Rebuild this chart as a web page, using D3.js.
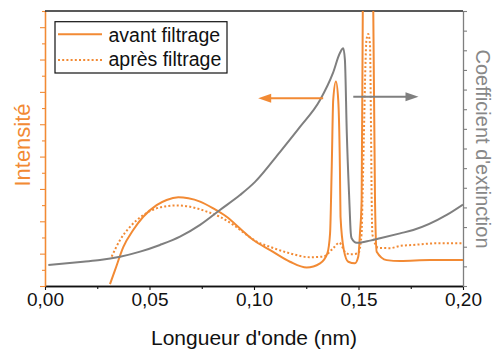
<!DOCTYPE html>
<html>
<head>
<meta charset="utf-8">
<script src="https://cdn.jsdelivr.net/npm/d3@7"></script>
<style>
  body { margin: 0; background: #fff; }
  svg { display: block; font-family: 'Liberation Sans', Arial, sans-serif; }
</style>
</head>
<body>
<div class="graph"></div>
<script>
// wavelength (nm) / value pairs
const grayX = [0.0016, 0.0182, 0.0263, 0.0359, 0.0455, 0.0550, 0.0646, 0.0742, 0.0837, 0.0933, 0.1005,
  0.1124, 0.1220, 0.1316, 0.1378, 0.1411, 0.1427, 0.1435, 0.1444, 0.1456, 0.1463, 0.1467, 0.1491,
  0.1555, 0.1603, 0.1699, 0.1762, 0.1922, 0.2000];
const extinction = [1.07, 1.24, 1.32, 1.49, 1.75, 2.09, 2.51, 3.11, 3.87, 4.63, 5.30,
  6.82, 8.10, 9.47, 10.85, 11.86, 12.10, 11.51, 7.79, 4.38, 2.70, 2.43, 2.20,
  2.31, 2.43, 2.68, 2.85, 3.62, 4.15];

const avantX = [0.0311, 0.0335, 0.0375, 0.0422, 0.0470, 0.0534, 0.0582, 0.0638, 0.0686, 0.0742, 0.0805,
  0.0869, 0.0933, 0.0997, 0.1077, 0.1172, 0.1252, 0.1316, 0.1351, 0.1364, 0.1372, 0.1379, 0.1392,
  0.1403, 0.1411, 0.1414, 0.1430, 0.1451, 0.1483, 0.1499, 0.1507, 0.1515, 0.1521, 0.1528, 0.1564,
  0.1570, 0.1579, 0.1587, 0.1635, 0.1699, 0.1842, 0.2000];
const avant = [0.06, 0.49, 1.21, 1.73, 2.14, 2.50, 2.66, 2.74, 2.71, 2.61, 2.40,
  2.14, 1.78, 1.42, 1.11, 0.75, 0.57, 0.70, 1.01, 1.63, 3.69, 5.75, 6.32,
  5.75, 3.69, 2.14, 1.11, 0.75, 0.70, 0.91, 1.63, 2.66, 9.0, 11.0, 11.0,
  9.0, 2.66, 1.06, 0.80, 0.77, 0.80, 0.80];

const apresX = [0.0319, 0.0359, 0.0407, 0.0470, 0.0550, 0.0630, 0.0694, 0.0774, 0.0837, 0.0901, 0.0965,
  0.1013, 0.1077, 0.1172, 0.1268, 0.1332, 0.1379, 0.1408, 0.1435, 0.1459, 0.1499, 0.1515, 0.1519,
  0.1526, 0.1533, 0.1538, 0.1547, 0.1555, 0.1560, 0.1563, 0.1567, 0.1595, 0.1651, 0.1699, 0.1762,
  0.1874, 0.2000];
const apres = [0.91, 1.42, 1.83, 2.19, 2.43, 2.49, 2.45, 2.30, 2.14, 1.89, 1.58,
  1.37, 1.21, 1.01, 0.89, 0.91, 1.17, 1.34, 1.06, 0.98, 1.01, 1.63, 2.66,
  4.73, 6.78, 7.60, 7.79, 7.45, 4.73, 2.66, 1.58, 1.18, 1.17, 1.24, 1.27,
  1.32, 1.32];

const xTicks = [0, 0.05, 0.10, 0.15, 0.20];
const xMinorTicks = [0.025, 0.075, 0.125, 0.175];
const leftTicks = [0, 1, 2, 3, 4, 5, 6, 7, 8];
const leftMinorTicks = [0.5, 1.5, 2.5, 3.5, 4.5, 5.5, 6.5, 7.5, 8.5];
const rightTicks = d3.range(0, 15);

const legendLabels = ['avant filtrage', 'après filtrage'];
// arrows: [x start, x tip] and y in the axis they point to
const leftArrowX = [0.1331, 0.1020];
const leftArrowY = 5.8;
const rightArrowX = [0.1475, 0.1787];
const rightArrowY = 9.64;

const orange = '#f28a34';
const gray = '#7f7f7f';

const width = 494;
const height = 350;
const margin = {
  top: 11, right: 31, bottom: 64, left: 45,
};
const w = width - margin.left - margin.right;
const h = height - margin.top - margin.bottom;

const frFormat = d3.formatLocale({
  decimal: ',', thousands: '.', grouping: [3], currency: ['', ''],
}).format('.2f');

const x = d3.scaleLinear().domain([0, 0.2]).range([0, w]);
const yLeft = d3.scaleLinear().domain([0, 8.5]).range([h, 0]);
const yRight = d3.scaleLinear().domain([0, 14]).range([h, 0]);

const svg = d3.select('.graph').append('svg')
  .attr('width', width)
  .attr('height', height)
  .append('g')
  .attr('transform', `translate(${margin.left},${margin.top})`);

svg.append('clipPath')
  .attr('id', 'plot-clip')
  .append('rect')
  .attr('width', w)
  .attr('height', h);

// axes
const styleAxis = (g, color) => {
  g.selectAll('.domain').attr('stroke', color).attr('stroke-width', 1.3);
  g.selectAll('.tick line').attr('stroke', color).attr('stroke-width', 1.1);
};

svg.append('g')
  .attr('transform', `translate(0,${h})`)
  .call(d3.axisBottom(x).tickValues(xMinorTicks).tickSize(3).tickSizeOuter(0).tickFormat(''))
  .call((g) => styleAxis(g, '#111'));

const xAxis = svg.append('g')
  .attr('transform', `translate(0,${h})`)
  .call(d3.axisBottom(x).tickValues(xTicks).tickSize(4).tickPadding(2.5).tickSizeOuter(0).tickFormat(frFormat))
  .call((g) => styleAxis(g, '#111'));
xAxis.selectAll('text')
  .attr('fill', '#111')
  .style('font-size', '19px')
  .style('font-family', "'Liberation Sans', Arial, sans-serif");

svg.append('g')
  .call(d3.axisLeft(yLeft).tickValues(leftMinorTicks).tickSize(3).tickSizeOuter(0).tickFormat(''))
  .call((g) => styleAxis(g, orange));
svg.append('g')
  .call(d3.axisLeft(yLeft).tickValues(leftTicks).tickSize(5).tickSizeOuter(0).tickFormat(''))
  .call((g) => styleAxis(g, orange));

svg.append('g')
  .attr('transform', `translate(${w},0)`)
  .call(d3.axisRight(yRight).tickValues(rightTicks).tickSize(4).tickSizeOuter(0).tickFormat(''))
  .call((g) => styleAxis(g, gray));

svg.append('line')
  .attr('x1', 0)
  .attr('x2', w)
  .attr('y1', 0)
  .attr('y2', 0)
  .attr('stroke', '#222')
  .attr('stroke-width', 1.3);

// titles
svg.append('text')
  .attr('x', w / 2)
  .attr('y', h + 59)
  .attr('text-anchor', 'middle')
  .attr('fill', '#111')
  .style('font-size', '21px')
  .text('Longueur d\'onde (nm)');

svg.append('text')
  .attr('transform', `translate(${30 - margin.left},${134}) rotate(-90)`)
  .attr('text-anchor', 'middle')
  .attr('fill', orange)
  .style('font-size', '22px')
  .text('Intensité');

svg.append('text')
  .attr('transform', `translate(${475.5 - margin.left},${138}) rotate(90)`)
  .attr('text-anchor', 'middle')
  .attr('fill', '#888')
  .style('font-size', '20px')
  .text('Coefficient d\'extinction');

// curves
const plot = svg.append('g').attr('clip-path', 'url(#plot-clip)');

const lineLeft = d3.line()
  .x((d) => x(d[0]))
  .y((d) => yLeft(d[1]))
  .curve(d3.curveMonotoneX);
const lineRight = d3.line()
  .x((d) => x(d[0]))
  .y((d) => yRight(d[1]))
  .curve(d3.curveMonotoneX);

plot.append('path')
  .datum(d3.zip(apresX, apres))
  .attr('d', lineLeft)
  .attr('fill', 'none')
  .attr('stroke', orange)
  .attr('stroke-width', 2)
  .attr('stroke-dasharray', '2,2.2');

plot.append('path')
  .datum(d3.zip(avantX, avant))
  .attr('d', lineLeft)
  .attr('fill', 'none')
  .attr('stroke', orange)
  .attr('stroke-width', 2);

plot.append('path')
  .datum(d3.zip(grayX, extinction))
  .attr('d', lineRight)
  .attr('fill', 'none')
  .attr('stroke', gray)
  .attr('stroke-width', 2);

// arrows
const arrow = (x0, x1, y, color) => {
  const dir = Math.sign(x1 - x0);
  svg.append('line')
    .attr('x1', x0)
    .attr('x2', x1 - dir * 10)
    .attr('y1', y)
    .attr('y2', y)
    .attr('stroke', color)
    .attr('stroke-width', 2);
  svg.append('path')
    .attr('d', `M${x1},${y}L${x1 - dir * 13},${y - 4.5}L${x1 - dir * 13},${y + 4.5}Z`)
    .attr('fill', color);
};
arrow(x(leftArrowX[0]), x(leftArrowX[1]), yLeft(leftArrowY), orange);
arrow(x(rightArrowX[0]), x(rightArrowX[1]), yRight(rightArrowY), gray);

// legend
const legend = svg.append('g').attr('transform', `translate(${55 - margin.left},${21.7 - margin.top})`);
legend.append('rect')
  .attr('width', 172)
  .attr('height', 51.3)
  .attr('fill', '#fff')
  .attr('stroke', '#111')
  .attr('stroke-width', 1.2);

legend.selectAll('line')
  .data(legendLabels)
  .enter()
  .append('line')
  .attr('x1', 3)
  .attr('x2', 47)
  .attr('y1', (d, i) => 12.6 + i * 25.7)
  .attr('y2', (d, i) => 12.6 + i * 25.7)
  .attr('stroke', orange)
  .attr('stroke-width', 2)
  .attr('stroke-dasharray', (d, i) => (i ? '2,2.2' : null));

legend.selectAll('text')
  .data(legendLabels)
  .enter()
  .append('text')
  .attr('x', 53.5)
  .attr('y', (d, i) => 20.3 + i * 24.5)
  .attr('fill', '#111')
  .style('font-size', '19.5px')
  .text((d) => d);
</script>
</body>
</html>
